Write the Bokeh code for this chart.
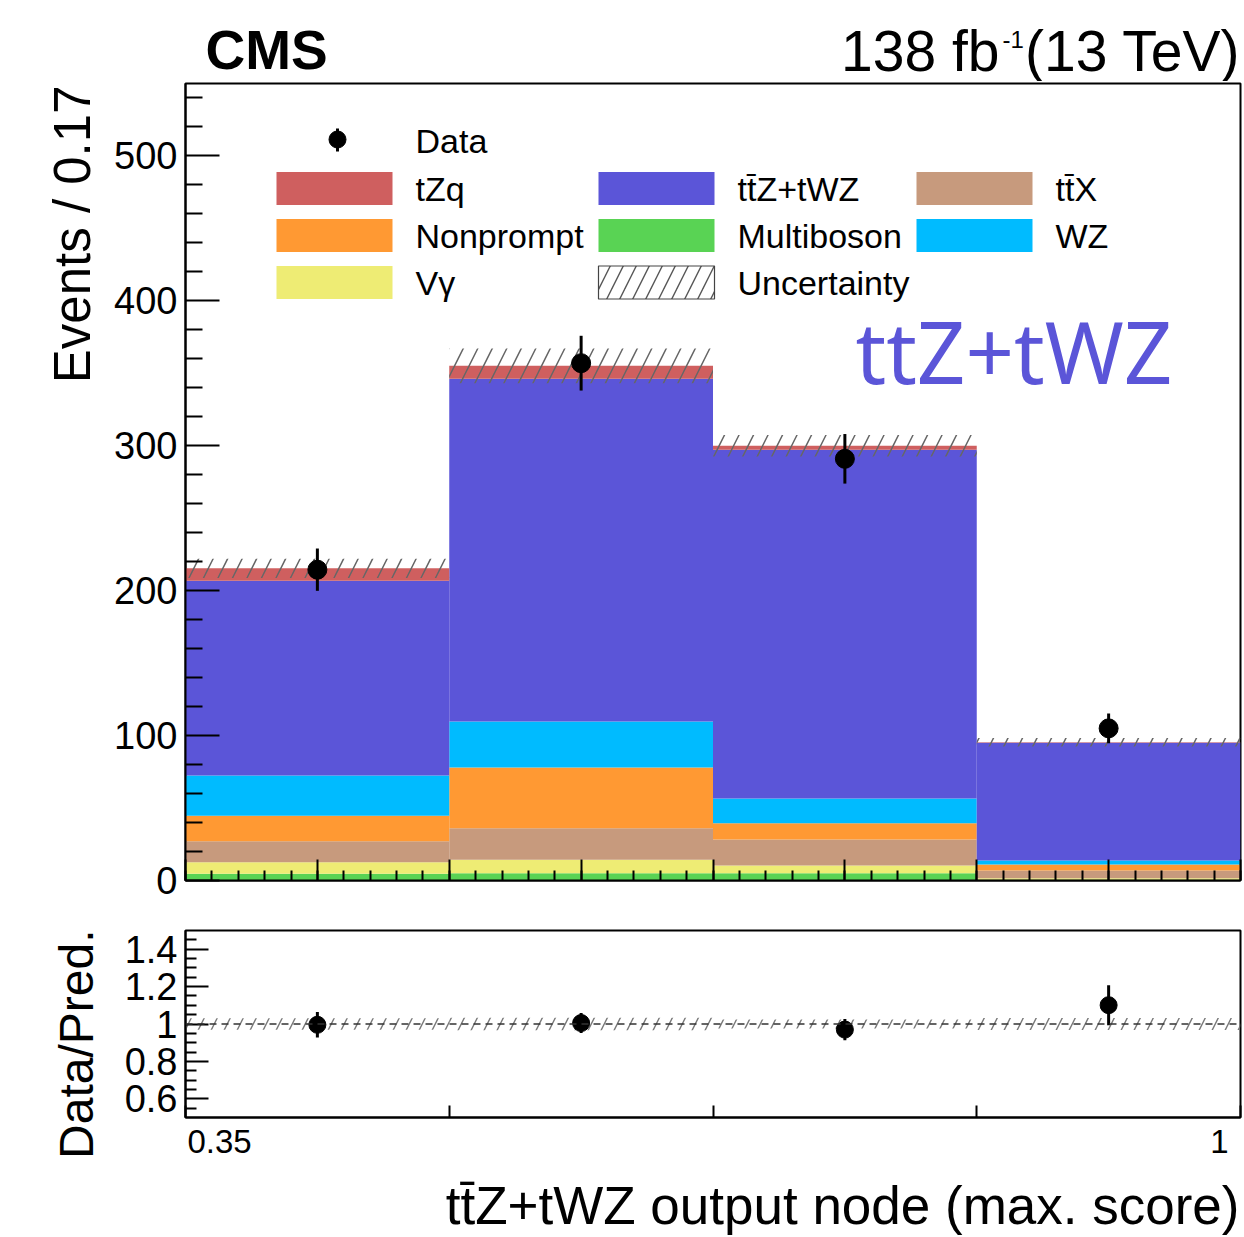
import numpy as np
from bokeh.plotting import figure
from bokeh.layouts import column, row
from bokeh.models import FixedTicker, Span, CustomJSTickFormatter
from bokeh.core.properties import value
from bokeh.embed import file_html
from bokeh.resources import INLINE

# ---- binning of the ttZ+tWZ output node ----
bin_edges = [0.35, 0.5125, 0.675, 0.8375, 1.0]

# ---- expected yields per bin, stacked bottom to top ----
multiboson = [4.6, 5.0, 5.0, 0.5]
vgamma = [8.0, 9.3, 5.3, 1.1]
ttx = [14.5, 21.8, 18.0, 5.3]
nonprompt = [17.5, 41.8, 11.2, 4.1]
wz = [27.8, 31.8, 17.1, 2.8]
ttz_twz = [134.5, 236.5, 240.6, 81.2]
tzq = [8.5, 9.0, 2.8, 0.4]

# total uncertainty on the prediction
pred_unc = [6.6, 12.0, 7.4, 3.0]

# observed events
data_obs = [214.5, 357.0, 291.0, 105.0]
data_err = [14.6, 18.9, 17.1, 10.2]

# axis ticks
y_major = [0, 100, 200, 300, 400, 500]
y_minor = [20, 40, 60, 80, 120, 140, 160, 180, 220, 240, 260, 280, 320, 340,
           360, 380, 420, 440, 460, 480, 520, 540]
r_major = [0.6, 0.8, 1.0, 1.2, 1.4]
r_labels = ["0.6", "0.8", "1", "1.2", "1.4"]
r_minor = [0.55, 0.65, 0.7, 0.75, 0.85, 0.9, 0.95, 1.05, 1.1, 1.15, 1.25,
           1.3, 1.35, 1.45]

stack = [
    ("Multiboson", multiboson, "#59d354"),
    ("V\u03b3", vgamma, "#eeec74"),
    ("tt\u0304X", ttx, "#c79a7d"),
    ("Nonprompt", nonprompt, "#ff9933"),
    ("WZ", wz, "#00bbff"),
    ("tt\u0304Z+tWZ", ttz_twz, "#5b55d8"),
    ("tZq", tzq, "#cf5f5f"),
]
colors = {name: c for name, _, c in stack}

FONT = "Liberation Sans"
X0, X1 = bin_edges[0], bin_edges[-1]
Y_MAX = 550

# canvas geometry (pixels)
W, H = 1244, 1237
HEADER_H = 81
LEFT_W = 110
MAIN_H, RATIO_H = 824, 214
FOOT_H = H - HEADER_H - MAIN_H - RATIO_H
FL, FR, FT, FB = 185, 1240, 83, 880      # main frame on the canvas


def fx(px):
    return X0 + (px - FL) * (X1 - X0) / (FR - FL)


def fy(py):
    return Y_MAX * (FB - py) / (FB - FT)


def blank_canvas(w, h, x_range=None, border_l=0, border_r=0):
    """A figure without axes, used for free text around the panels."""
    f = figure(width=w, height=h, x_range=x_range or (0, w), y_range=(0, h),
               output_backend="svg", toolbar_location=None, title=None,
               x_axis_location=None, y_axis_location=None,
               min_border_left=border_l, min_border_right=border_r,
               min_border_top=0, min_border_bottom=0)
    f.grid.visible = False
    f.outline_line_color = None
    f.background_fill_color = "white"
    f.border_fill_color = "white"
    return f


def put_text(f, x, y, text, size, align="left", bold=False, angle=0.0,
             color="black", font=FONT, baseline="middle"):
    f.text(x=[x], y=[y], text=[text], text_font=value(font),
           text_font_size=size, text_align=align, text_baseline=baseline,
           text_font_style="bold" if bold else "normal", angle=angle,
           text_color=color)


blank_fmt = CustomJSTickFormatter(code="return ''")

edges = np.array(bin_edges)
lefts, rights = edges[:-1], edges[1:]
centers = 0.5 * (lefts + rights)


def style_axes(p):
    p.grid.visible = False
    p.outline_line_color = "black"
    p.outline_line_width = 2
    p.background_fill_color = "white"
    p.border_fill_color = "white"
    for ax in (p.xaxis[0], p.yaxis[0]):
        ax.axis_line_width = 2
        ax.axis_line_color = "black"
        ax.major_tick_out = 0
        ax.minor_tick_out = 0
        ax.major_tick_line_width = 2
        ax.minor_tick_line_width = 2
        ax.major_tick_line_color = "black"
        ax.minor_tick_line_color = "black"
        ax.major_label_text_font = FONT
        ax.major_label_text_color = "black"
        ax.major_label_text_font_size = "38px"
        ax.major_label_standoff = 8


# ================= header =================
header = blank_canvas(W, HEADER_H)
put_text(header, 205, HEADER_H - 49, "CMS", "55px", bold=True)
put_text(header, 999, HEADER_H - 50, "138 fb", "57px", align="right")
put_text(header, 1002, HEADER_H - 39, "-1", "24px")
put_text(header, 1240, HEADER_H - 50, "(13 TeV)", "57px", align="right")

# ================= left strip with rotated titles =================
LEFT_H = H - HEADER_H
left = blank_canvas(LEFT_W, LEFT_H)
put_text(left, 72, LEFT_H - (85 - HEADER_H), "Events / 0.17", "51px",
         align="right", angle=np.pi / 2)
put_text(left, 76, LEFT_H - (929 - HEADER_H), "Data/Pred.", "48px",
         align="right", angle=np.pi / 2)

# ================= main panel =================
p1 = figure(width=W - LEFT_W, height=MAIN_H, x_range=(X0, X1),
            y_range=(0, Y_MAX), output_backend="svg", toolbar_location=None,
            title=None, min_border_left=FL - LEFT_W, min_border_right=W - FR,
            min_border_top=FT - HEADER_H,
            min_border_bottom=HEADER_H + MAIN_H - FB)
style_axes(p1)
p1.xaxis.ticker = FixedTicker(ticks=list(np.linspace(X0, X1, 9)),
                              minor_ticks=list(np.linspace(X0, X1, 41)))
p1.xaxis.formatter = blank_fmt
p1.xaxis.major_label_standoff = 0
p1.xaxis.major_label_text_font_size = "8px"
p1.xaxis.major_tick_in = 21
p1.xaxis.minor_tick_in = 10
p1.yaxis.ticker = FixedTicker(ticks=y_major, minor_ticks=y_minor)
p1.yaxis.major_tick_in = 34
p1.yaxis.minor_tick_in = 17

# stacked histogram
bottom = np.zeros(len(lefts))
for name, vals, col in stack:
    top = bottom + np.array(vals)
    p1.quad(left=lefts, right=rights, bottom=bottom, top=top,
            fill_color=col, line_color=None)
    bottom = top
pred = bottom.copy()
unc = np.array(pred_unc)

# uncertainty band
p1.quad(left=lefts, right=rights, bottom=pred - unc, top=pred + unc,
        fill_color=None, line_color=None, hatch_pattern="/",
        hatch_color="#666666", hatch_weight=1.5, hatch_scale=29)

# data points
obs = np.array(data_obs)
err = np.array(data_err)
p1.segment(x0=centers, x1=centers, y0=obs - err, y1=obs + err,
           line_color="black", line_width=3)
p1.scatter(x=centers, y=obs, size=19, fill_color="black", line_color="black")

# legend block
p1.segment(x0=[fx(337)], x1=[fx(337)], y0=[fy(151)], y1=[fy(128)],
           line_color="black", line_width=3)
p1.scatter(x=[fx(337)], y=[fy(139)], size=17, fill_color="black",
           line_color="black")

legend_rows = [
    [("tZq", "tZq"), ("tt\u0304Z+tWZ", "tt\u0304Z+tWZ"), ("tt\u0304X", "tt\u0304X")],
    [("Nonprompt", "Nonprompt"), ("Multiboson", "Multiboson"), ("WZ", "WZ")],
    [("V\u03b3", "V\u03b3"), ("Uncertainty", None)],
]
col_x = [276, 598, 916]
box_w, box_h = 116, 33
lx0, lx1, ly0, ly1, lcol = [], [], [], [], []
tx, ty, tt = [fx(415)], [fy(140)], ["Data"]
hx0 = hx1 = hy0 = hy1 = None
for r, row_items in enumerate(legend_rows):
    cy = 188 + 47 * r
    for c, (label, key) in enumerate(row_items):
        bx = col_x[c]
        if key is None:
            hx0, hx1 = fx(bx), fx(bx + box_w)
            hy0, hy1 = fy(cy + box_h / 2), fy(cy - box_h / 2)
        else:
            lx0.append(fx(bx))
            lx1.append(fx(bx + box_w))
            ly0.append(fy(cy + box_h / 2))
            ly1.append(fy(cy - box_h / 2))
            lcol.append(colors[key])
        tx.append(fx(bx + 139))
        ty.append(fy(cy))
        tt.append(label)

p1.quad(left=lx0, right=lx1, bottom=ly0, top=ly1, fill_color=lcol,
        line_color=None)
p1.quad(left=[hx0], right=[hx1], bottom=[hy0], top=[hy1], fill_color=None,
        line_color="#444444", line_width=1.2, hatch_pattern="/",
        hatch_color="#555555", hatch_weight=1.4, hatch_scale=26)
p1.text(x=tx, y=ty, text=tt, text_font=value(FONT), text_font_size="34px",
        text_baseline="middle", text_align="left", text_color="black")

# process tag
put_text(p1, fx(855), fy(350), "ttZ+tWZ", "85px", color="#5b55d8",
         font="Noto Sans")

# ================= ratio panel =================
RT, RB = 930, 1117
p2 = figure(width=W - LEFT_W, height=RATIO_H, x_range=p1.x_range,
            y_range=(0.5, 1.5), output_backend="svg", toolbar_location=None,
            title=None, min_border_left=FL - LEFT_W, min_border_right=W - FR,
            min_border_top=RT - (HEADER_H + MAIN_H),
            min_border_bottom=HEADER_H + MAIN_H + RATIO_H - RB)
style_axes(p2)
p2.xaxis.ticker = FixedTicker(ticks=[X0, X1], minor_ticks=list(edges[1:-1]))
p2.xaxis.formatter = blank_fmt
p2.xaxis.major_label_standoff = 0
p2.xaxis.major_label_text_font_size = "1px"
p2.xaxis.major_tick_in = 12
p2.xaxis.minor_tick_in = 12
p2.yaxis.ticker = FixedTicker(ticks=r_major, minor_ticks=r_minor)
p2.yaxis.major_label_overrides = {t: s for t, s in zip(r_major, r_labels)}
p2.yaxis.major_tick_in = 23
p2.yaxis.minor_tick_in = 11

ratio = obs / pred
ratio_err = err / pred
band = unc / pred
p2.quad(left=lefts, right=rights, bottom=1 - band, top=1 + band,
        fill_color=None, line_color=None, hatch_pattern="/",
        hatch_color="#777777", hatch_weight=1.4, hatch_scale=26)
p2.add_layout(Span(location=1.0, dimension="width", line_color="#333333",
                   line_width=1.5, line_dash="7 5"))
p2.segment(x0=centers, x1=centers, y0=ratio - ratio_err, y1=ratio + ratio_err,
           line_color="black", line_width=3)
p2.scatter(x=centers, y=ratio, size=17, fill_color="black", line_color="black")

# ================= footer: x tick labels and x title =================
# its frame lines up with the panels above, so x is given in canvas pixels
FOOT_TOP = HEADER_H + MAIN_H + RATIO_H
footer = blank_canvas(W - LEFT_W, FOOT_H, x_range=(FL, FR),
                      border_l=FL - LEFT_W, border_r=W - FR)
put_text(footer, FL + 2, FOOT_H - (1141 - FOOT_TOP), "0.35", "33px")
put_text(footer, 1228, FOOT_H - (1141 - FOOT_TOP), "1", "33px",
         align="right")
put_text(footer, FR - 1, FOOT_H - (1205 - FOOT_TOP),
         "tt\u0304Z+tWZ output node (max. score)", "53px", align="right")

layout = column(header,
                row(left, column(p1, p2, footer, spacing=0), spacing=0),
                spacing=0)
open("out.html", "w").write(file_html(layout, INLINE))
